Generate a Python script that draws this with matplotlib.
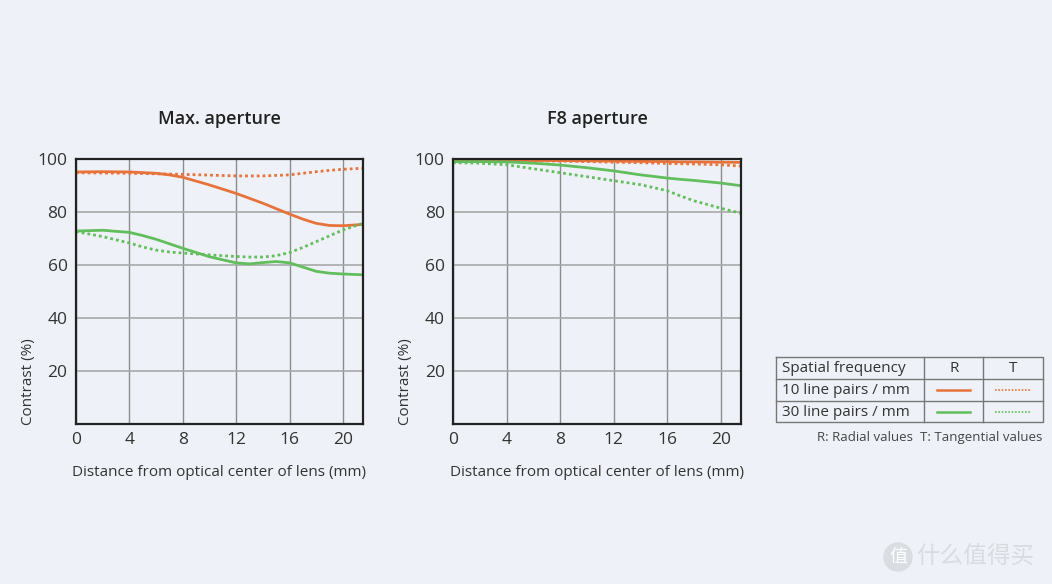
import numpy as np
import matplotlib.pyplot as plt
from matplotlib.patches import Circle

# distance from optical center (mm)
x_max = [0, 2, 4, 6, 7, 8, 10, 12, 14, 16, 17, 18, 19, 20, 21.5]
r10_max = [95.1, 95.2, 95.1, 94.6, 94.0, 93.1, 90.2, 87.0, 83.3, 79.2, 77.3, 75.7, 74.9, 74.8, 75.3]
t10_max = [94.8, 94.7, 94.6, 94.4, 94.3, 94.2, 93.9, 93.6, 93.6, 94.0, 94.6, 95.2, 95.7, 96.1, 96.5]
x_max30 = [0, 2, 4, 5, 6, 7, 8, 10, 12, 13, 14, 15, 16, 17, 18, 19, 20, 21.5]
r30_max = [72.8, 73.1, 72.3, 71.1, 69.7, 68.0, 66.3, 63.1, 60.8, 60.4, 60.9, 61.3, 60.8, 59.2, 57.6, 56.9, 56.6, 56.3]
t30_max = [72.6, 70.7, 68.3, 66.8, 65.6, 64.9, 64.5, 63.8, 63.2, 63.0, 63.0, 63.5, 64.7, 66.6, 68.8, 71.0, 73.2, 75.7]

x_f8 = [0, 2, 4, 6, 8, 10, 12, 14, 16, 17, 18, 20, 21.5]
r10_f8 = [99.5, 99.5, 99.5, 99.4, 99.4, 99.3, 99.2, 99.1, 99.0, 98.9, 98.9, 98.8, 98.7]
t10_f8 = [99.5, 99.4, 99.4, 99.3, 99.2, 99.0, 98.8, 98.6, 98.3, 98.2, 98.1, 97.8, 97.3]
r30_f8 = [99.0, 99.0, 98.9, 98.4, 97.7, 96.7, 95.5, 94.0, 92.8, 92.3, 91.9, 90.9, 89.9]
t30_f8 = [98.6, 98.4, 97.8, 96.3, 94.8, 93.3, 91.8, 90.3, 88.0, 86.0, 84.2, 81.4, 79.5]

xticks = [0, 4, 8, 12, 16, 20]
yticks = [20, 40, 60, 80, 100]

orange = '#E8733A'
green = '#62BE5C'
bg = '#EEF2F8'
txt = '#333333'

plt.rcParams['font.family'] = ['Open Sans', 'DejaVu Sans']

fig = plt.figure(figsize=(10.52, 5.84), dpi=100, facecolor=bg)


def setup(ax, title):
    ax.set_facecolor(bg)
    ax.set_xlim(0, 21.5)
    ax.set_ylim(0, 100)
    ax.set_xticks(xticks)
    ax.set_yticks(yticks)
    ax.set_xticklabels([str(v) for v in xticks], fontsize=12.5, color=txt)
    ax.set_yticklabels([str(v) for v in yticks], fontsize=12.5, color=txt)
    ax.tick_params(length=0, pad=6)
    ax.xaxis.grid(True, color='#8c8c8c', lw=1.0)
    ax.yaxis.grid(True, color='#a8a8a8', lw=1.2)
    ax.set_axisbelow(True)
    for s in ax.spines.values():
        s.set_color('#222222')
        s.set_linewidth(1.6)
    ax.set_title(title, fontsize=13, fontweight='semibold', color='#222222', pad=25)
    ax.set_xlabel('Distance from optical center of lens (mm)', fontsize=11, color=txt, labelpad=12)
    ax.set_ylabel('Contrast (%)', fontsize=11, color=txt, labelpad=4)
    ax.yaxis.set_label_coords(-0.14, 0.16)


ax1 = fig.add_axes([0.0722, 0.274, 0.2728, 0.4538])
setup(ax1, 'Max. aperture')
ax1.plot(x_max, r10_max, color=orange, lw=2)
ax1.plot(x_max, t10_max, color=orange, lw=2, ls=(0, (1, 1.1)))
ax1.plot(x_max30, r30_max, color=green, lw=2)
ax1.plot(x_max30, t30_max, color=green, lw=2, ls=(0, (1, 1.1)))

ax2 = fig.add_axes([0.4306, 0.274, 0.2738, 0.4538])
setup(ax2, 'F8 aperture')
ax2.plot(x_f8, r10_f8, color=orange, lw=2)
ax2.plot(x_f8, t10_f8, color=orange, lw=2, ls=(0, (1, 1.1)))
ax2.plot(x_f8, r30_f8, color=green, lw=2)
ax2.plot(x_f8, t30_f8, color=green, lw=2, ls=(0, (1, 1.1)))

# legend table in pixel coordinates
ov = fig.add_axes([0, 0, 1, 1], facecolor='none')
ov.set_xlim(0, 1052)
ov.set_ylim(584, 0)
ov.axis('off')
tc = '#777777'
ov.plot([776, 1043, 1043, 776, 776], [357, 357, 422, 422, 357], color=tc, lw=1)
for yy in (379, 401):
    ov.plot([776, 1043], [yy, yy], color=tc, lw=1)
for xx in (924, 983):
    ov.plot([xx, xx], [357, 422], color=tc, lw=1)
rows = ['Spatial frequency', '10 line pairs / mm', '30 line pairs / mm']
for i, r in enumerate(rows):
    ov.text(782, 368 + i * 22, r, fontsize=11, color=txt, va='center', ha='left')
ov.text(954, 368, 'R', fontsize=11, color=txt, va='center', ha='center')
ov.text(1013, 368, 'T', fontsize=11, color=txt, va='center', ha='center')
ov.plot([937, 970], [390, 390], color=orange, lw=1.8)
ov.plot([995, 1030], [390, 390], color=orange, lw=1.2, ls=(0, (1, 1)))
ov.plot([937, 970], [412, 412], color=green, lw=1.8)
ov.plot([995, 1030], [412, 412], color=green, lw=1.2, ls=(0, (1, 1)))
ov.text(1042, 437, 'R: Radial values  T: Tangential values', fontsize=9.5, color='#444444',
        va='center', ha='right')

# watermark
ov.add_patch(Circle((898, 557), 14, color='#d8dbe0', alpha=0.9))
ov.text(898, 557, '值', fontsize=13, color='white', va='center', ha='center',
        family=['Noto Sans CJK SC', 'DejaVu Sans'])
ov.text(975, 557, '什么值得买', fontsize=17, color='#d8dbe0', va='center', ha='center',
        family=['Noto Sans CJK SC', 'DejaVu Sans'])

fig.savefig('out.png', dpi=100, facecolor=bg)
